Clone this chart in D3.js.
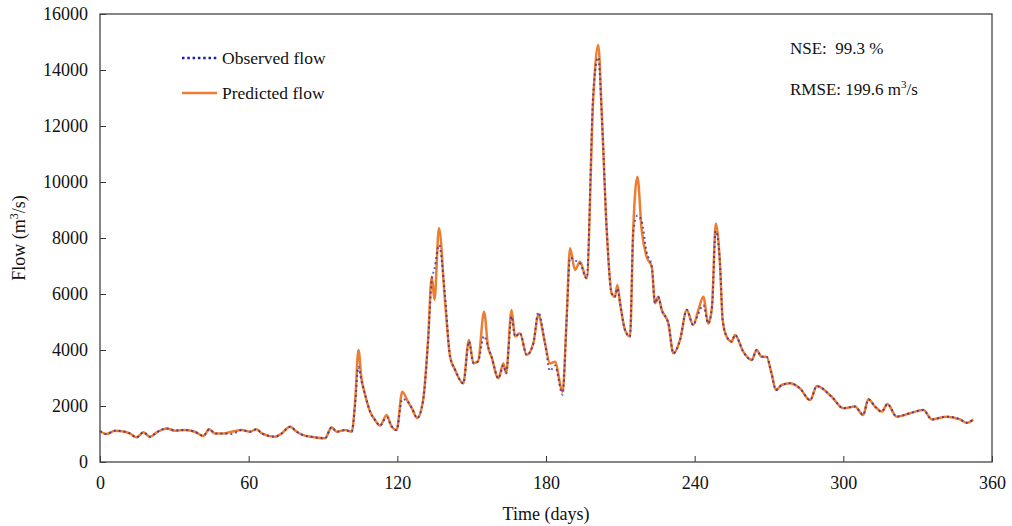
<!DOCTYPE html>
<html><head><meta charset="utf-8">
<script src="https://cdn.jsdelivr.net/npm/d3@7"></script>
<style>body{margin:0;background:#fff}svg{display:block}text{font-family:"Liberation Serif","Times New Roman",serif;fill:#111}</style>
</head><body><svg id="c" width="1012" height="526"></svg>
<script>
const days = [0,2.7,6,10,12,14.8,17.5,20.2,22.9,26.9,30.3,34.3,38.3,41.7,44.1,46.4,49.8,53.1,57.2,60.5,63.2,65.3,70.6,73.3,76.7,79.4,82,86.8,90.8,93.5,95.5,98.9,101.6,103,104.3,105.5,107,109,111,113,115.7,117.5,119.7,122,124.3,126,128,130.4,132.4,133.9,135,136.8,139.2,141.3,143.3,146.6,148.9,150.7,152.6,155,156.6,158,160.8,162.8,163.9,166.1,167.5,169.5,172.2,174.9,176.9,179.6,181.6,183.6,186.7,188.3,189.7,191.7,193.7,196.4,199.1,201.1,202.5,204.5,206.5,207.8,208.8,209.9,211.9,213.9,215.2,216.9,218.6,220.6,222.7,224,225.3,226.7,229.4,231.4,234.1,236.8,239.4,241.5,243.5,245.5,247,248.5,250.2,251.3,252.9,254.9,256.3,259.6,263,265,267,269,271,272.8,275.1,278.5,282.5,286.6,289.3,295.3,300,304.7,308,310.1,312.8,315.5,317.8,321.5,326.9,332.3,335.7,341.7,347.1,349.8,352.5];
const predicted = [1100,1000,1120,1080,1020,880,1060,900,1060,1200,1120,1140,1080,930,1170,1020,1020,1080,1140,1080,1170,1020,900,1020,1260,1080,960,880,845,1240,1080,1140,1080,2200,4000,3000,2400,1800,1500,1300,1680,1300,1140,2510,2150,1900,1570,2200,4360,6620,5790,8360,5790,3760,3290,2810,4360,3530,3600,5370,4120,3760,2990,3520,3170,5430,4480,4600,3820,4240,5250,4240,3520,3580,2510,5070,7630,6860,7150,6560,13050,14890,12460,8290,6020,5900,6320,5670,4710,4480,8290,10190,8290,7330,6970,5670,5900,5430,4950,3880,4360,5430,4890,5430,5900,4950,5550,8520,7100,5070,4480,4300,4540,3940,3640,4000,3760,3760,3170,2570,2750,2810,2630,2210,2710,2330,1920,1980,1680,2240,1980,1800,2070,1620,1740,1860,1520,1620,1520,1400,1520];
const observed = [1100,1000,1120,1080,1020,880,1060,900,1060,1200,1120,1140,1080,930,1170,1020,1020,1000,1140,1080,1170,1020,900,1020,1260,1080,960,880,850,1240,1080,1140,1080,2100,3400,2900,2400,1800,1500,1300,1600,1300,1140,2250,2150,1900,1570,2200,4300,6500,6900,7750,6000,3760,3290,2810,4300,3530,3600,4500,4120,3760,2990,3450,3170,5200,4480,4600,3820,4240,5350,4240,3250,3450,2400,5000,7300,7200,7100,6560,13200,14450,12400,8290,6020,5900,6200,5670,4710,4480,8200,8800,8600,7500,6970,5670,5900,5430,4950,3880,4360,5430,4890,5300,5600,4950,5550,8250,7100,5070,4480,4300,4540,3940,3640,4000,3760,3760,3170,2570,2750,2810,2630,2210,2710,2330,1920,1980,1680,2240,1980,1800,2070,1620,1740,1860,1520,1620,1520,1400,1520];
const xTicks = [0,60,120,180,240,300,360];
const yTicks = [0,2000,4000,6000,8000,10000,12000,14000,16000];
const legendLabels = ["Observed flow","Predicted flow"];

const svg = d3.select("#c");
const L=100,R=992,T=14,B=462;
const x = d3.scaleLinear().domain([0,360]).range([L,R]);
const y = d3.scaleLinear().domain([0,16000]).range([B,T]);

const xAxis = svg.append("g").attr("transform",`translate(0,${B})`)
  .call(d3.axisBottom(x).tickValues(xTicks).tickFormat(d3.format("d")).tickSizeInner(-6).tickSizeOuter(0).tickPadding(14));
const yAxis = svg.append("g").attr("transform",`translate(${L},0)`)
  .call(d3.axisLeft(y).tickValues(yTicks).tickFormat(d3.format("d")).tickSizeInner(-6).tickSizeOuter(0).tickPadding(12));
[xAxis,yAxis].forEach(g=>{
  g.selectAll("text").style("font-size","18px").attr("fill","#111");
  g.selectAll("line").attr("stroke","#333");
  g.select(".domain").remove();
});
svg.append("rect").attr("x",L).attr("y",T).attr("width",R-L).attr("height",B-T)
  .attr("fill","none").attr("stroke","#444").attr("stroke-width",1.3);

const line = (vals)=>d3.line().x((d,i)=>x(days[i])).y(d=>y(d)).curve(d3.curveMonotoneX)(vals);
svg.append("path").attr("d",line(predicted)).attr("fill","none")
  .attr("stroke","#ED7D31").attr("stroke-width",2.5).attr("stroke-linejoin","round");
svg.append("path").attr("d",line(observed)).attr("fill","none")
  .attr("stroke","#1c1ca8").attr("stroke-width",2).attr("stroke-dasharray","2,3").attr("opacity",0.7);

// legend
svg.append("line").attr("x1",182).attr("x2",217).attr("y1",58).attr("y2",58)
  .attr("stroke","#1c1ca8").attr("stroke-width",2.5).attr("stroke-dasharray","2.5,2.8");
svg.append("text").attr("x",222).attr("y",64).style("font-size","17.5px").text(legendLabels[0]);
svg.append("line").attr("x1",182).attr("x2",217).attr("y1",93).attr("y2",93)
  .attr("stroke","#ED7D31").attr("stroke-width",2.4);
svg.append("text").attr("x",222).attr("y",99).style("font-size","17.5px").text(legendLabels[1]);

svg.append("text").attr("x",790).attr("y",54).style("font-size","17px").attr("xml:space","preserve").text("NSE:  99.3 %");
const rm = svg.append("text").attr("x",790).attr("y",95).style("font-size","17px");
rm.append("tspan").text("RMSE: 199.6 m");
rm.append("tspan").attr("dy",-7).style("font-size","11px").text("3");
rm.append("tspan").attr("dy",7).text("/s");

svg.append("text").attr("x",(L+R)/2).attr("y",520).attr("text-anchor","middle").style("font-size","18px").text("Time (days)");
const yl = svg.append("text").attr("transform",`translate(25,${(T+B)/2}) rotate(-90)`).attr("text-anchor","middle").style("font-size","18px");
yl.append("tspan").text("Flow (m");
yl.append("tspan").attr("dy",-7).style("font-size","12px").text("3");
yl.append("tspan").attr("dy",7).text("/s)");
</script></body></html>
